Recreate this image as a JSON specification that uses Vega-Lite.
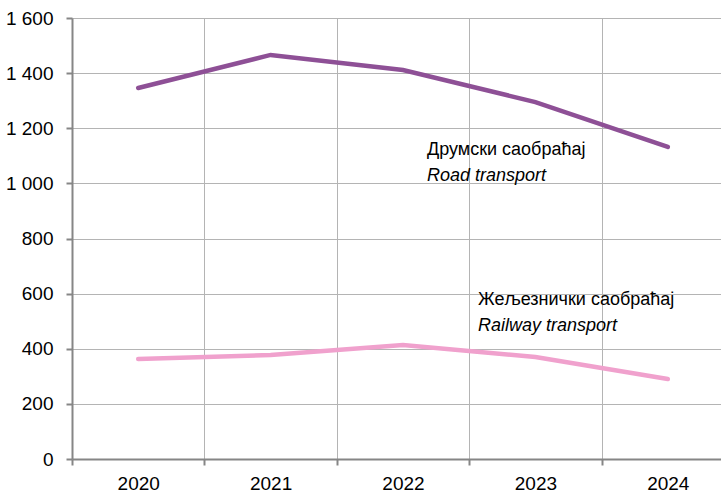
{
  "$schema": "https://vega.github.io/schema/vega-lite/v6.json",
  "width": 662,
  "height": 441,
  "autosize": "none",
  "padding": {"left": 72, "top": 18, "right": 0, "bottom": 39},
  "background": "white",
  "config": {
    "view": {"stroke": null},
    "font": "Liberation Sans Narrow, Arial Narrow, Liberation Sans",
    "axis": {
      "labelFont": "Liberation Sans Narrow, Arial Narrow, Liberation Sans",
      "labelFontSize": 19,
      "labelColor": "#000000",
      "domainColor": "#868686",
      "domainWidth": 2,
      "tickColor": "#868686",
      "tickWidth": 2,
      "tickSize": 6,
      "gridColor": "#b4b4b4",
      "gridWidth": 1,
      "title": null
    }
  },
  "datasets": {
    "series": [
      {"year": "2020", "mode": "Road", "value": 1346},
      {"year": "2021", "mode": "Road", "value": 1466},
      {"year": "2022", "mode": "Road", "value": 1411},
      {"year": "2023", "mode": "Road", "value": 1295},
      {"year": "2024", "mode": "Road", "value": 1132},
      {"year": "2020", "mode": "Railway", "value": 363},
      {"year": "2021", "mode": "Railway", "value": 377},
      {"year": "2022", "mode": "Railway", "value": 414},
      {"year": "2023", "mode": "Railway", "value": 370},
      {"year": "2024", "mode": "Railway", "value": 290}
    ],
    "labels": [
      {"year": "2022", "value": 1121, "text": "Друмски саобраћај", "style": "normal", "shift": "road"},
      {"year": "2022", "value": 1027, "text": "Road transport", "style": "italic", "shift": "road"},
      {"year": "2022", "value": 577, "text": "Жељезнички саобраћај", "style": "normal", "shift": "rail"},
      {"year": "2022", "value": 483, "text": "Railway transport", "style": "italic", "shift": "rail"}
    ]
  },
  "encoding": {
    "x": {
      "field": "year",
      "type": "ordinal",
      "scale": {"type": "band", "paddingInner": 0, "paddingOuter": 0},
      "bandPosition": 0.5,
      "axis": {"tickBand": "extent", "labelAngle": 0, "labelPadding": 9, "grid": true, "domain": true}
    },
    "y": {
      "field": "value",
      "type": "quantitative",
      "scale": {"domain": [0, 1600], "nice": false},
      "axis": {"values": [0, 200, 400, 600, 800, 1000, 1200, 1400, 1600], "labelPadding": 13, "grid": true, "labelExpr": "replace(format(datum.value, ',d'), ',', ' ')"}
    }
  },
  "layer": [
    {
      "data": {"name": "series"},
      "mark": {"type": "line", "strokeWidth": 4.5, "strokeCap": "round"},
      "encoding": {
        "color": {
          "field": "mode",
          "type": "nominal",
          "scale": {"domain": ["Road", "Railway"], "range": ["#8e5096", "#f0a1cd"]},
          "legend": null
        }
      }
    },
    {
      "data": {"name": "labels"},
      "transform": [{"filter": "datum.shift == 'road' && datum.style == 'normal'"}],
      "mark": {"type": "text", "align": "left", "baseline": "middle", "dx": 24, "fontSize": 18, "fontStyle": "normal", "color": "#000000"},
      "encoding": {"text": {"field": "text"}}
    },
    {
      "data": {"name": "labels"},
      "transform": [{"filter": "datum.shift == 'road' && datum.style == 'italic'"}],
      "mark": {"type": "text", "align": "left", "baseline": "middle", "dx": 24, "fontSize": 18, "fontStyle": "italic", "color": "#000000"},
      "encoding": {"text": {"field": "text"}}
    },
    {
      "data": {"name": "labels"},
      "transform": [{"filter": "datum.shift == 'rail' && datum.style == 'normal'"}],
      "mark": {"type": "text", "align": "left", "baseline": "middle", "dx": 75, "fontSize": 18, "fontStyle": "normal", "color": "#000000"},
      "encoding": {"text": {"field": "text"}}
    },
    {
      "data": {"name": "labels"},
      "transform": [{"filter": "datum.shift == 'rail' && datum.style == 'italic'"}],
      "mark": {"type": "text", "align": "left", "baseline": "middle", "dx": 75, "fontSize": 18, "fontStyle": "italic", "color": "#000000"},
      "encoding": {"text": {"field": "text"}}
    }
  ]
}
